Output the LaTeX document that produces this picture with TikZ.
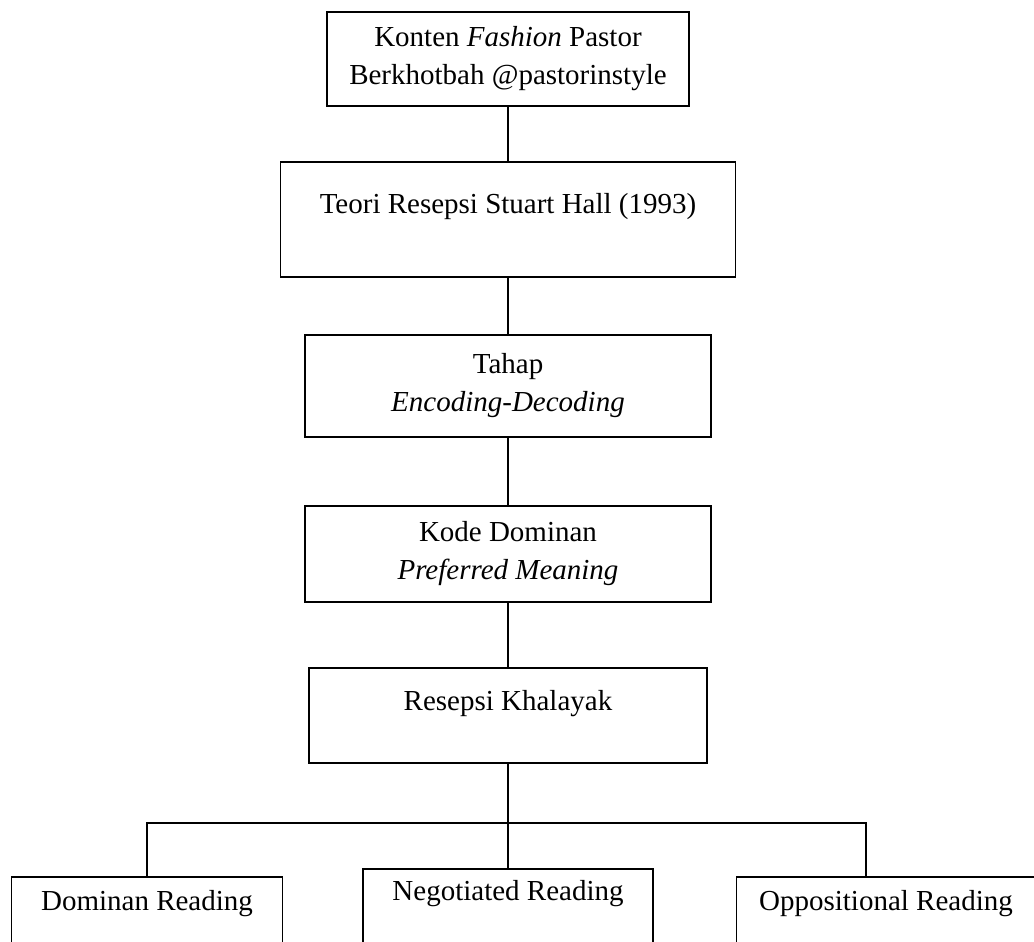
\documentclass[tikz,border=0pt]{standalone}
\usepackage{fontspec}
\setmainfont{Liberation Serif}
\usetikzlibrary{positioning}
\tikzset{
    every node/.append style={
        font=\fontsize{29}{38}\selectfont
    },
    box/.style={
        draw,
        line width=1.8pt,
        align=center,
        inner sep=0pt,
        outer sep=0pt
    },
    link/.style={
        draw,
        line width=1.8pt
    }
}

\begin{document}
\begin{tikzpicture}[x=1pt, y=-1pt]
                    \useasboundingbox (0,0) rectangle (1034,942);
                    \node[box, minimum width=362pt, minimum height=94pt] (konten) at (508,59) {Konten \textit{Fashion} Pastor\\Berkhotbah @pastorinstyle};
                    \node[box, below=56pt of konten, minimum width=455pt, text height=51pt, text depth=64pt] (teori) {Teori Resepsi Stuart Hall (1993)};
                    \node[box, below=58pt of teori, minimum width=406pt, minimum height=102pt] (tahap) {Tahap\\\textit{Encoding-Decoding}};
                    \node[box, below=69pt of tahap, minimum width=406pt, minimum height=96pt] (kode) {Kode Dominan\\\textit{Preferred Meaning}};
                    \node[box, below=66pt of kode, minimum width=398pt, text height=42pt, text depth=53pt] (resepsi) {Resepsi Khalayak};
                    \node[box, anchor=north, minimum width=271pt, text height=33pt, text depth=60pt] (dominan) at (147,877) {Dominan Reading};
                    \node[box, anchor=north, minimum width=290pt, text height=31pt, text depth=70pt] (negotiated) at (508,869) {Negotiated Reading};
                    \node[box, anchor=north, minimum width=299pt, text height=33pt, text depth=60pt] (oppositional) at (886,877) {Oppositional Reading};
                    \coordinate (split) at (508,823);

                    \draw[link] (konten) -- (teori);
                    \draw[link] (teori) -- (tahap);
                    \draw[link] (tahap) -- (kode);
                    \draw[link] (kode) -- (resepsi);
                    \draw[link] (resepsi) -- (negotiated);
                    \draw[link] (dominan.north) |- (split) -| ([xshift=-20pt]oppositional.north);
                \end{tikzpicture}
\end{document}
